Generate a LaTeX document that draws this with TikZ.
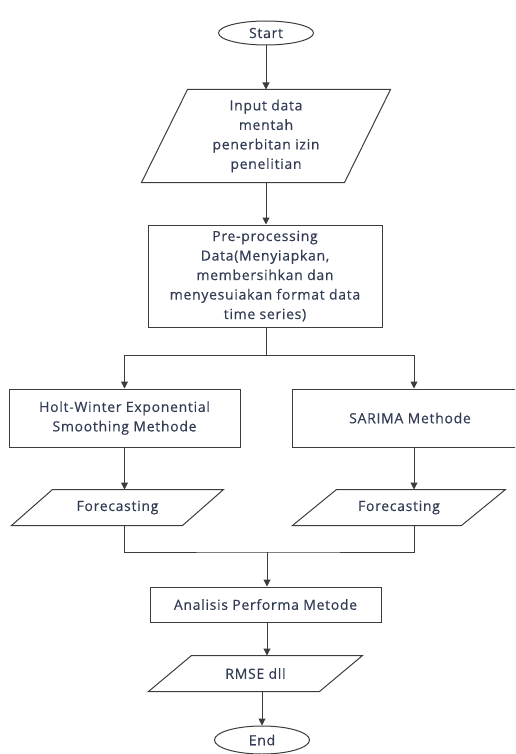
\documentclass[tikz,border=0pt]{standalone}
\usepackage{fontspec}
\setmainfont{Open Sans}[LetterSpace=5,FakeBold=0.4]
\usetikzlibrary{shapes.geometric,arrows.meta}
\definecolor{txt}{RGB}{50,60,85}
\definecolor{ln}{RGB}{60,60,60}
\tikzset{
  base/.style={draw=ln, line width=1pt, inner sep=0pt, font=\fontsize{14}{19.5}\selectfont, text=txt, align=center},
  term/.style={base, ellipse, minimum width=95pt},
  procbox/.style={base, rectangle},
  iobox/.style={procbox, draw=none},
  conn/.style={draw=ln, line width=1pt},
  arr/.style={conn, -{Triangle[width=7pt,length=7pt]}, shorten >=0pt}
}
\newcommand{\para}[2]{% node name, slant
  \draw[conn] ([xshift=#2]#1.north west) -- (#1.north east) -- ([xshift=-#2]#1.south east) -- (#1.south west) -- cycle;}
\begin{document}
\begin{tikzpicture}[x=1pt,y=-1pt]
\useasboundingbox (0,0) rectangle (515,754);
\clip (0,0) rectangle (515,754);
\node[term, minimum height=24pt] (start) at (266,33) {Start};
\node[iobox, minimum width=248pt, minimum height=92pt] (input) at (266,136) {Input data\\mentah\\penerbitan izin\\penelitian};
\para{input}{46pt}
\node[procbox, minimum width=234pt, minimum height=102pt] (pre) at (265,276) {Pre-processing\\Data(Menyiapkan,\\membersihkan dan\\menyesuiakan format data\\time series)};
\node[procbox, minimum width=231pt, minimum height=58pt] (holt) at (124.5,418) {Holt-Winter Exponential\\Smoothing Methode};
\node[procbox, minimum width=244pt, minimum height=58pt] (sarima) at (414,418) {\hspace*{-8pt}SARIMA Methode};
\node[iobox, minimum width=211pt, minimum height=35pt] (fc1) at (117.5,507.5) {Forecasting};
\para{fc1}{41pt}
\node[iobox, minimum width=212pt, minimum height=35pt] (fc2) at (399,507.5) {Forecasting};
\para{fc2}{44pt}
\node[procbox, minimum width=231pt, minimum height=35pt] (ana) at (265.5,604.5) {Analisis Performa Metode};
\node[iobox, minimum width=213pt, minimum height=35pt] (rmse) at (255.5,673.5) {RMSE dll};
\para{rmse}{43pt}
\node[term, minimum height=28pt] (end) at (262,740) {End};
\coordinate (split) at (266,355);
\coordinate (join) at (267,552);
% connectors
\draw[arr] (start) -- (input);
\draw[arr] (input.south -| start) -- (pre.north -| start);
\draw[conn] (pre.south -| split) -- (split);
\draw[arr] (split) -| (holt.north);
\draw[arr] (split) -| (sarima.north);
\draw[arr] (holt.south) -- (holt.south |- fc1.north);
\draw[arr] (sarima.south) -- (sarima.south |- fc2.north);
\draw[conn] (holt.south |- fc1.south) |- (join) -| (sarima.south |- fc2.south);
\draw[arr] (join) -- (join |- ana.north);
\draw[arr] (join |- ana.south) -- (join |- rmse.north);
\draw[arr] (end.north |- rmse.south) -- (end.north);
\end{tikzpicture}
\end{document}
